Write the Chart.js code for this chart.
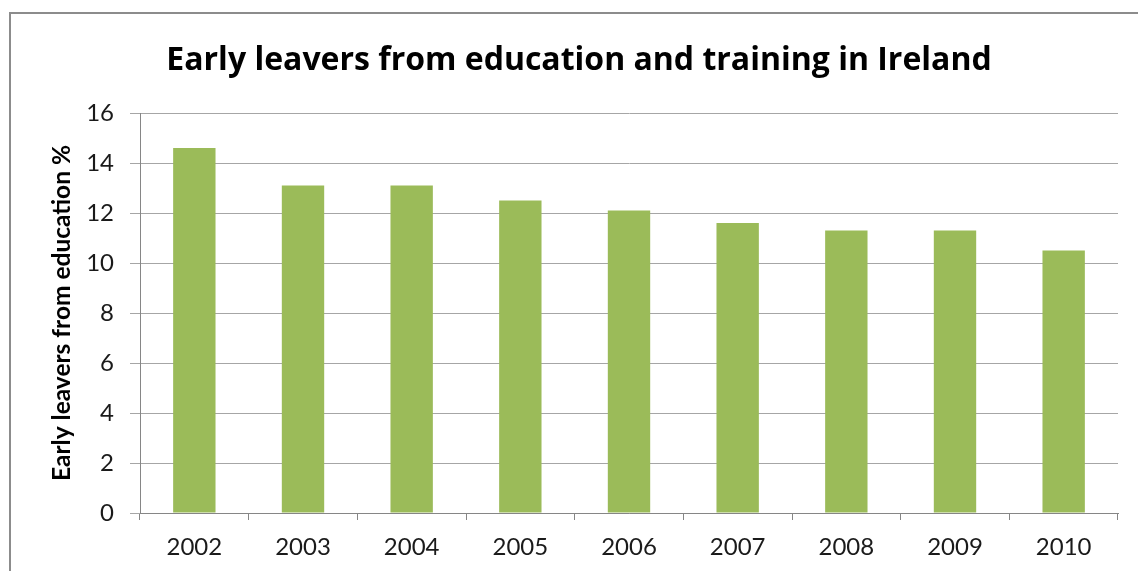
<!DOCTYPE html>
<html>
<head>
<meta charset="utf-8">
<script src="https://cdn.jsdelivr.net/npm/chart.js@4"></script>
<style>
  html, body { margin: 0; padding: 0; background: #fff; overflow: hidden; }
  #wrap { position: relative; width: 1138px; height: 571px; }
  #frame {
    position: absolute; left: 9px; top: 12px; width: 1200px; height: 600px;
    border-left: 2px solid #8c8c8c; border-top: 2px solid #8c8c8c;
  }
  canvas { position: absolute; left: 0; top: 0; }
</style>
</head>
<body>
<div id="wrap">
  <div id="frame"></div>
  <canvas id="chart" width="1138" height="571"></canvas>
</div>
<script>
// data
const years = ["2002", "2003", "2004", "2005", "2006", "2007", "2008", "2009", "2010"];
const leavers = [14.6, 13.1, 13.1, 12.5, 12.1, 11.6, 11.3, 11.3, 10.5];
const yTicks = [0, 2, 4, 6, 8, 10, 12, 14, 16];

const fontFamily = "Lato, 'Open Sans', sans-serif";

new Chart(document.getElementById("chart").getContext("2d"), {
    type: "bar",
    data: {
        labels: years,
        datasets: [{
            label: "Early leavers",
            data: leavers,
            backgroundColor: "#9bbb59",
            borderWidth: 0,
            barPercentage: 0.39,
            categoryPercentage: 1,
        }],
    },
    options: {
        responsive: false,
        animation: false,
        // left padding keeps the title centred on the framed area
        layout: {
            padding: { left: 20, right: 0, top: 0, bottom: 0 },
        },
        plugins: {
            legend: { display: false },
            tooltip: { enabled: false },
            title: {
                display: true,
                text: "Early leavers from education and training in Ireland",
                color: "#000",
                font: { family: "'Open Sans', sans-serif", size: 32, weight: "bold", lineHeight: 1.2 },
                padding: { top: 42, bottom: 32.6 },
            },
        },
        scales: {
            x: {
                offset: true,
                grid: {
                    offset: true,
                    drawOnChartArea: false,
                    color: "#868686",
                    tickLength: 7,
                },
                border: { color: "#868686", width: 1 },
                ticks: {
                    color: "#1a1a1a",
                    padding: 13,
                    font: { family: fontFamily, size: 24 },
                    maxRotation: 0,
                },
                afterFit: (scale) => { scale.height = 58; },
            },
            y: {
                min: 0,
                max: 16,
                afterBuildTicks: (scale) => {
                    scale.ticks = yTicks.map((v) => ({ value: v }));
                },
                grid: {
                    color: "#a6a6a6",
                    tickLength: 10,
                },
                border: { color: "#868686", width: 1 },
                ticks: {
                    color: "#1a1a1a",
                    padding: 16,
                    font: { family: fontFamily, size: 24 },
                },
                title: {
                    display: true,
                    text: "Early leavers from education %",
                    color: "#000",
                    font: { family: fontFamily, size: 24.5, weight: "bold", lineHeight: 1.2 },
                    padding: { top: 27, bottom: 0 },
                },
                afterFit: (scale) => { scale.width = 120; },
            },
            // empty right-hand strip so the plot ends before the canvas edge
            spacer: {
                type: "linear",
                position: "right",
                grid: { display: false, drawTicks: false },
                border: { display: false },
                ticks: { display: false },
                afterFit: (scale) => { scale.width = 20; },
            },
        },
    },
});
</script>
</body>
</html>
